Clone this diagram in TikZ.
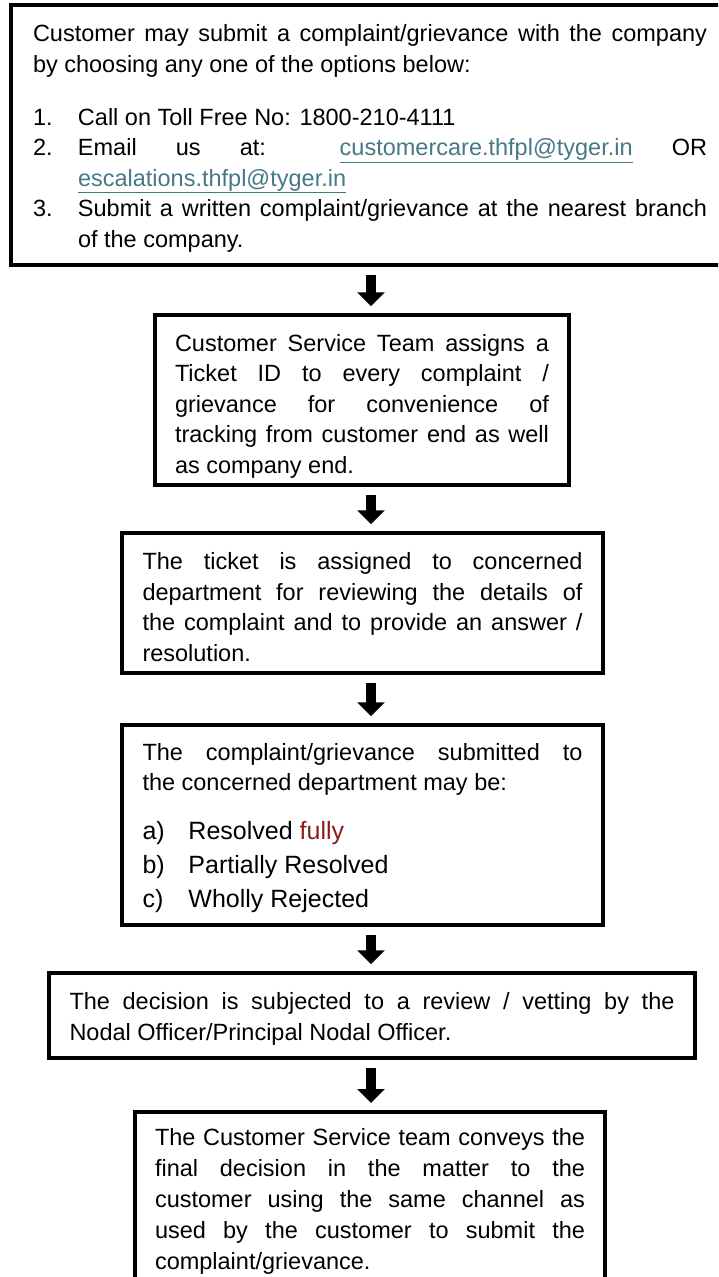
\documentclass[tikz,border=0pt]{standalone}
\usepackage{fontspec}
\setmainfont{Liberation Sans}
\usetikzlibrary{arrows.meta}
\definecolor{linkteal}{HTML}{467886}
\definecolor{fullyred}{HTML}{8C1C1C}
\newcommand{\bodyfont}{\fontsize{23.5}{30.5}\selectfont}
\newcommand{\itemfont}{\fontsize{25}{34}\selectfont}
\newcommand{\mailto}[1]{\textcolor{linkteal}{\underline{#1}}}
\newcommand{\numitem}[2]{\par\noindent\hangindent=#1\hangafter=1\makebox[#1][l]{#2}}% hanging list entry

\tikzset{
  stepbox/.style={draw,line width=3.5pt,inner sep=0pt,align=justify,font=\bodyfont},
  textdrop/.style={execute at begin node={\rule{0pt}{#1}}},	% taller first line pushes text down
  flowarrow/.style={line width=10pt,-{Triangle[width=27pt,length=14pt]},shorten <=8pt,shorten >=7pt}
}

\begin{document}
\begin{tikzpicture}[x=1pt,y=-1pt]
	\useasboundingbox (0,0) rectangle (718,1277);
	\clip (0,0) rectangle (718,1277);
	\coordinate (axis) at (371,0);	%arrow column
	
	%BOXES
	\node[stepbox,textdrop=23.5pt,minimum width=718,minimum height=260,text width=674] (submit) at (370,135)
		{Customer may submit a complaint/grievance with the company\linebreak by choosing any one of the options below:\par\vspace{22.5pt}
		\numitem{45pt}{1.}Call on Toll Free No: 1800-210-4111
		\numitem{45pt}{2.}Email us at: \mailto{customercare.thfpl@tyger.in} OR\linebreak \mailto{escalations.thfpl@tyger.in}
		\numitem{45pt}{3.}Submit a written complaint/grievance at the nearest branch\linebreak of the company.\par};
	\node[stepbox,textdrop=29.5pt,minimum width=414,minimum height=170,text width=374] (ticket) at (362,400)
		{Customer Service Team assigns a\linebreak Ticket ID to every complaint /\linebreak grievance for convenience of\linebreak tracking from customer end as well\linebreak as company end.};
	\node[stepbox,textdrop=25pt,minimum width=481,minimum height=140,text width=440] (assign) at (362.5,603)
		{The ticket is assigned to concerned\linebreak department for reviewing the details of\linebreak the complaint and to provide an answer /\linebreak resolution.};
	\node[stepbox,textdrop=23.5pt,minimum width=481,minimum height=200,text width=440] (outcome) at (362.5,825)
		{The complaint/grievance submitted to\linebreak the concerned department may be:\par\vspace{15pt}\itemfont
		\numitem{46pt}{a)}Resolved \textcolor{fullyred}{fully}
		\numitem{46pt}{b)}Partially Resolved
		\numitem{46pt}{c)}Wholly Rejected\par};
	\node[stepbox,textdrop=23.5pt,minimum width=646,minimum height=85,text width=605] (review) at (372,1015.5)
		{The decision is subjected to a review / vetting by the\linebreak Nodal Officer/Principal Nodal Officer.};
	\node[stepbox,anchor=north,minimum width=470,minimum height=180,text width=430,font=\fontsize{23.5}{31}\selectfont] (convey) at (370,1110)
		{The Customer Service team conveys the\linebreak final decision in the matter to the\linebreak customer using the same channel as\linebreak used by the customer to submit the\linebreak complaint/grievance.};
	
	%ARROWS
	\draw[flowarrow] (submit.south -| axis) -- (ticket.north -| axis);
	\draw[flowarrow] (ticket.south -| axis) -- (assign.north -| axis);
	\draw[flowarrow] (assign.south -| axis) -- (outcome.north -| axis);
	\draw[flowarrow] (outcome.south -| axis) -- (review.north -| axis);
	\draw[flowarrow] (review.south -| axis) -- (convey.north -| axis);
\end{tikzpicture}
\end{document}
